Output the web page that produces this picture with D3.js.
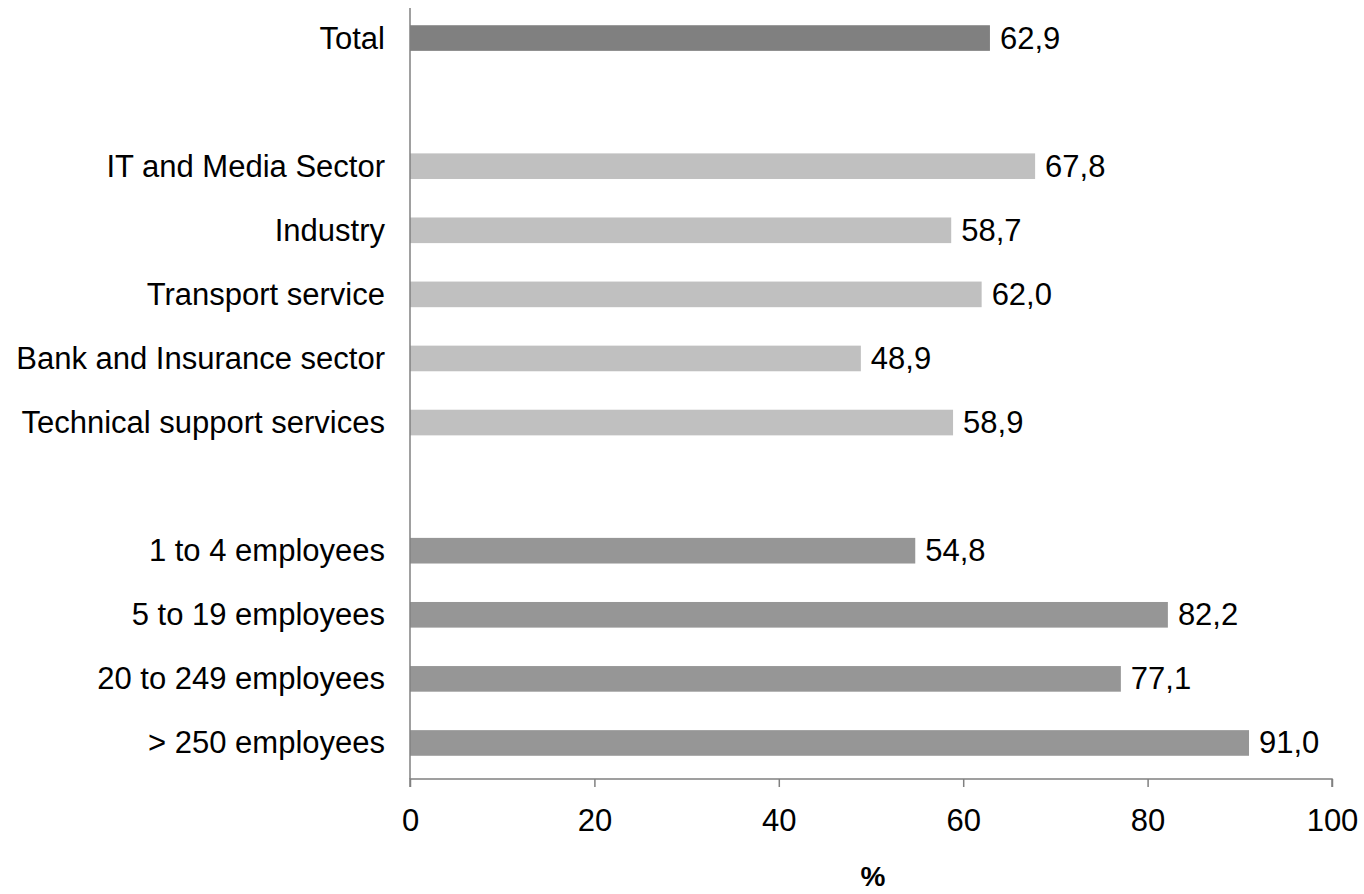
<!DOCTYPE html>
<html>
<head>
<meta charset="utf-8">
<script src="https://cdn.jsdelivr.net/npm/d3@7"></script>
<style>
  body { margin: 0; background: #fff; }
  text { font-family: "Liberation Sans", Arial, sans-serif; }
</style>
</head>
<body>
<div id="chart"></div>
<script>
// categories (blank slots are gaps between groups)
const categories = ["Total", "gap1", "IT and Media Sector", "Industry", "Transport service",
  "Bank and Insurance sector", "Technical support services", "gap2",
  "1 to 4 employees", "5 to 19 employees", "20 to 249 employees", "> 250 employees"];
const values = [62.9, null, 67.8, 58.7, 62.0, 48.9, 58.9, null, 54.8, 82.2, 77.1, 91.0];
const groups = ["total", null, "sector", "sector", "sector", "sector", "sector", null, "size", "size", "size", "size"];
const xTicks = [0, 20, 40, 60, 80, 100];

const colors = { total: "#808080", sector: "#c0c0c0", size: "#969696" };
const fs = 31;

const width = 1364, height = 894;
const svg = d3.select("#chart").append("svg")
  .attr("width", width).attr("height", height);

const x = d3.scaleLinear().domain([0, 100]).range([410, 1332]);
const y = d3.scaleBand().domain(categories).range([6, 775]).paddingInner(0.6).paddingOuter(0.3);

const data = categories.map((c, i) => ({ cat: c, value: values[i], group: groups[i] }))
  .filter(d => d.value !== null);

// bars
svg.append("g").selectAll("rect")
  .data(data).enter().append("rect")
  .attr("x", x(0))
  .attr("y", d => y(d.cat))
  .attr("width", d => x(d.value) - x(0))
  .attr("height", y.bandwidth())
  .attr("fill", d => colors[d.group]);

// value labels
svg.append("g").selectAll("text")
  .data(data).enter().append("text")
  .attr("x", d => x(d.value) + 10)
  .attr("y", d => y(d.cat) + y.bandwidth() / 2)
  .attr("dy", "0.34em")
  .attr("font-size", fs)
  .text(d => d3.format(".1f")(d.value).replace(".", ","));

// category labels
svg.append("g").selectAll("text")
  .data(data).enter().append("text")
  .attr("x", 385)
  .attr("y", d => y(d.cat) + y.bandwidth() / 2)
  .attr("dy", "0.34em")
  .attr("text-anchor", "end")
  .attr("font-size", fs)
  .text(d => d.cat);

// y axis line
svg.append("line")
  .attr("x1", x(0)).attr("x2", x(0))
  .attr("y1", 8).attr("y2", 779)
  .attr("stroke", "#808080").attr("stroke-width", 1.5);

// x axis
const xAxis = svg.append("g")
  .attr("transform", "translate(0,779)")
  .call(d3.axisBottom(x).tickValues(xTicks).tickSize(8).tickPadding(22).tickFormat(d3.format("d")));
xAxis.select(".domain").attr("stroke", "#808080").attr("stroke-width", 1.5)
  .attr("d", `M${x(0)},8V0H${x(100)}V8`);
xAxis.selectAll(".tick line").attr("stroke", "#808080").attr("stroke-width", 1.5);
xAxis.selectAll(".tick text").attr("font-size", fs).attr("fill", "#000")
  .attr("font-family", "Liberation Sans, Arial, sans-serif");

// axis title
svg.append("text")
  .attr("x", 873).attr("y", 886)
  .attr("text-anchor", "middle")
  .attr("font-size", 28).attr("font-weight", "bold")
  .text("%");
</script>
</body>
</html>
